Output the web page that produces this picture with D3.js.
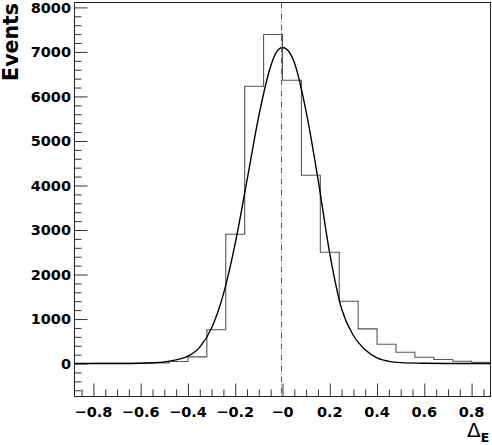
<!DOCTYPE html>
<html>
<head>
<meta charset="utf-8">
<script src="https://cdn.jsdelivr.net/npm/d3@7"></script>
<style>
  html, body { margin: 0; padding: 0; background: #fff; }
  svg { display: block; }
  text { font-family: "DejaVu Sans", sans-serif; }
</style>
</head>
<body>
<svg id="chart" width="492" height="445"></svg>
<script>
// ---- data ----
const binEdges = [-0.88, -0.80, -0.72, -0.64, -0.56, -0.48, -0.40, -0.32, -0.24, -0.16, -0.08, 0.00,
                  0.08, 0.16, 0.24, 0.32, 0.40, 0.48, 0.56, 0.64, 0.72, 0.80, 0.88];
const binCounts = [2, 3, 5, 8, 15, 45, 150, 760, 2905, 6230, 7390,
                   6365, 4230, 2500, 1400, 780, 435, 255, 143, 90, 53, 31];

const fitX = [-0.88, -0.70, -0.60, -0.55, -0.50, -0.45, -0.40, -0.35, -0.30, -0.25, -0.20, -0.15, -0.10, -0.05, -0.025,
              0.00, 0.025, 0.05, 0.10, 0.15, 0.20, 0.25, 0.30, 0.35, 0.40, 0.45, 0.50, 0.60, 0.70, 0.88];
const fitY = [0, 2, 8, 18, 38, 82, 165, 370, 800, 1560, 2700, 4120, 5570, 6680, 7000,
              7100, 7020, 6760, 5660, 4150, 2470, 1230, 630, 310, 125, 48, 20, 6, 2, 0];

const markerX = -0.004;

const yMajorTicks = [0, 1000, 2000, 3000, 4000, 5000, 6000, 7000, 8000];
const yTickLabels = ["0", "1000", "2000", "3000", "4000", "5000", "6000", "7000", "8000"];
const yMinorTicks = d3.range(-600, 8001, 200).filter(v => v % 1000 !== 0);
const xMajorTicks = [-0.8, -0.6, -0.4, -0.2, 0, 0.2, 0.4, 0.6, 0.8];
const xTickLabels = ["\u22120.8", "\u22120.6", "\u22120.4", "\u22120.2", "\u22120", "0.2", "0.4", "0.6", "0.8"];
const xMinorTicks = d3.range(-17, 18).filter(k => k % 4 !== 0).map(k => k * 0.05);

// ---- layout ----
const mLeft = 74.5, mRight = 490.5, mTop = 2.5, mBottom = 396.5;
const svg = d3.select("#chart");

const x = d3.scaleLinear().domain([-0.88, 0.88]).range([mLeft, mRight]);
const y = d3.scaleLinear().domain([-740, 8110]).range([mBottom, mTop]);

svg.append("defs").append("clipPath").attr("id", "clip")
  .append("rect").attr("x", mLeft).attr("y", mTop).attr("width", mRight - mLeft).attr("height", mBottom - mTop);

// frame
svg.append("rect").attr("x", mLeft).attr("y", mTop).attr("width", mRight - mLeft).attr("height", mBottom - mTop)
  .attr("fill", "none").attr("stroke", "#222").attr("stroke-width", 1);

// axes ticks
function styleAxis(g) {
  g.select(".domain").remove();
  g.selectAll("line").attr("stroke", "#333").attr("stroke-width", 1);
  g.selectAll("text").remove();
}
svg.append("g").attr("transform", `translate(${mLeft},0)`)
  .call(d3.axisLeft(y).tickValues(yMajorTicks).tickSize(-13)).call(styleAxis);
svg.append("g").attr("transform", `translate(${mLeft},0)`)
  .call(d3.axisLeft(y).tickValues(yMinorTicks).tickSize(-7)).call(styleAxis);
svg.append("g").attr("transform", `translate(0,${mBottom})`)
  .call(d3.axisBottom(x).tickValues(xMajorTicks).tickSize(-13)).call(styleAxis);
svg.append("g").attr("transform", `translate(0,${mBottom})`)
  .call(d3.axisBottom(x).tickValues(xMinorTicks).tickSize(-7)).call(styleAxis);

// tick labels
svg.append("g").selectAll("text").data(yMajorTicks).join("text")
  .attr("x", mLeft - 3.5).attr("y", d => y(d)).attr("dy", "0.36em")
  .attr("text-anchor", "end").attr("font-weight", "bold").attr("font-size", 14.5)
  .attr("fill", "#000").text((d, i) => yTickLabels[i]);
svg.append("g").selectAll("text").data(xMajorTicks).join("text")
  .attr("x", d => x(d)).attr("y", 416.7)
  .attr("text-anchor", "middle").attr("font-weight", "bold").attr("font-size", 14.5)
  .attr("fill", "#000").text((d, i) => xTickLabels[i]);

// axis titles
svg.append("text").attr("transform", "translate(17.5,3) rotate(-90)")
  .attr("text-anchor", "end").attr("font-weight", "bold").attr("font-size", 20.5)
  .attr("fill", "#000").text("Events");
const xt = svg.append("text").attr("x", 467).attr("y", 437).attr("fill", "#000");
xt.append("tspan").attr("font-size", 20).text("\u0394");
xt.append("tspan").attr("font-size", 12.5).attr("font-weight", "bold").attr("dy", 4.5).text("E");

// histogram
const plot = svg.append("g").attr("clip-path", "url(#clip)");
const histPts = [];
binCounts.forEach((c, i) => { histPts.push([binEdges[i], c]); histPts.push([binEdges[i + 1], c]); });
plot.append("path")
  .attr("d", d3.line().x(d => x(d[0])).y(d => y(d[1]))(histPts))
  .attr("fill", "none").attr("stroke", "#555").attr("stroke-width", 1.1);

// fit curve
plot.append("path")
  .attr("d", d3.line().x((d, i) => x(fitX[i])).y(d => y(d)).curve(d3.curveMonotoneX)(fitY))
  .attr("fill", "none").attr("stroke", "#000").attr("stroke-width", 1.4);

// vertical marker
plot.append("line")
  .attr("x1", x(markerX)).attr("x2", x(markerX)).attr("y1", mTop).attr("y2", mBottom)
  .attr("stroke", "#555").attr("stroke-width", 1).attr("stroke-dasharray", "6,2,1,2");
</script>
</body>
</html>
